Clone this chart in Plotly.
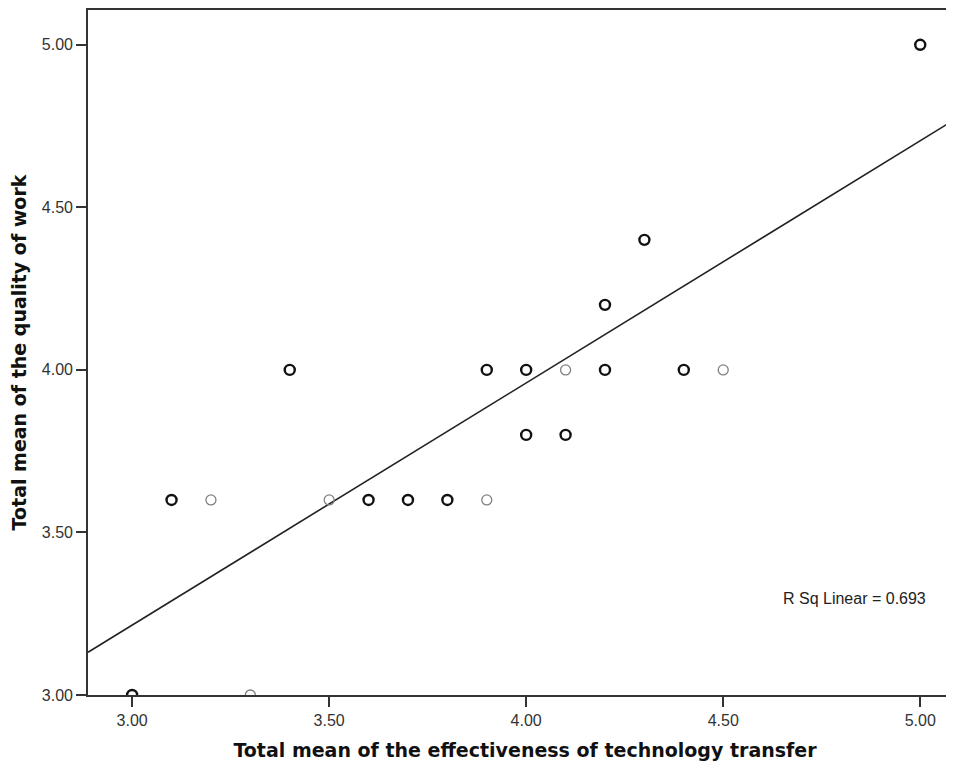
import plotly.graph_objects as go

# data
dense_x = [3.0, 3.1, 3.4, 3.6, 3.7, 3.8, 3.9, 4.0, 4.0, 4.1, 4.2, 4.2, 4.3, 4.4, 5.0]
dense_y = [3.0, 3.6, 4.0, 3.6, 3.6, 3.6, 4.0, 4.0, 3.8, 3.8, 4.2, 4.0, 4.4, 4.0, 5.0]
single_x = [3.2, 3.3, 3.5, 3.9, 4.1, 4.5]
single_y = [3.6, 3.0, 3.6, 3.6, 4.0, 4.0]
fit_intercept = 0.98
fit_slope = 0.745
r_sq = 0.693
x_range = [2.888, 5.106]
y_range = [3.0, 5.107]
ticks = [3.0, 3.5, 4.0, 4.5, 5.0]

fig = go.Figure()
line_x = x_range
line_y = [fit_intercept + fit_slope * v for v in line_x]
fig.add_trace(go.Scatter(x=line_x, y=line_y, mode="lines",
                         line=dict(color="#222222", width=1.6), hoverinfo="skip"))
fig.add_trace(go.Scatter(x=single_x, y=single_y, mode="markers",
                         marker=dict(symbol="circle-open", size=10, color="#808080",
                                     line=dict(color="#808080", width=1.3))))
fig.add_trace(go.Scatter(x=dense_x, y=dense_y, mode="markers",
                         marker=dict(symbol="circle-open", size=10, color="#111111",
                                     line=dict(color="#111111", width=2.4))))

axis_font = dict(family="Liberation Sans, Arial", size=16, color="#333333")
title_font = dict(family="DejaVu Sans", size=19, color="#111111", weight="bold")

fig.update_layout(
    width=954, height=755,
    margin=dict(l=80, r=0, t=0, b=68),
    paper_bgcolor="white", plot_bgcolor="white",
    showlegend=False,
    xaxis=dict(range=x_range, tickvals=ticks, tickformat=".2f",
               showgrid=False, zeroline=False,
               showline=True, linecolor="#333333", linewidth=1.6, mirror=True,
               ticks="outside", ticklen=10, tickwidth=1.5, tickcolor="#333333",
               tickfont=axis_font,
               title=dict(text="Total mean of the effectiveness of technology transfer",
                          font=title_font, standoff=16)),
    yaxis=dict(range=y_range, tickvals=ticks, tickformat=".2f",
               showgrid=False, zeroline=False,
               showline=True, linecolor="#333333", linewidth=1.6,
               ticks="outside", ticklen=10, tickwidth=1.5, tickcolor="#333333",
               tickfont=axis_font,
               title=dict(text="Total mean of the quality of work",
                          font=title_font, standoff=14)),
    annotations=[dict(x=(928 - 88) / 874, y=1 - (598 - 8) / 687,
                      xref="paper", yref="paper", xanchor="right", yanchor="middle",
                      text="R Sq Linear = %.3f" % r_sq, showarrow=False,
                      font=dict(family="Liberation Sans, Arial", size=16, color="#222222"))]
)
fig.write_html("out.html")
